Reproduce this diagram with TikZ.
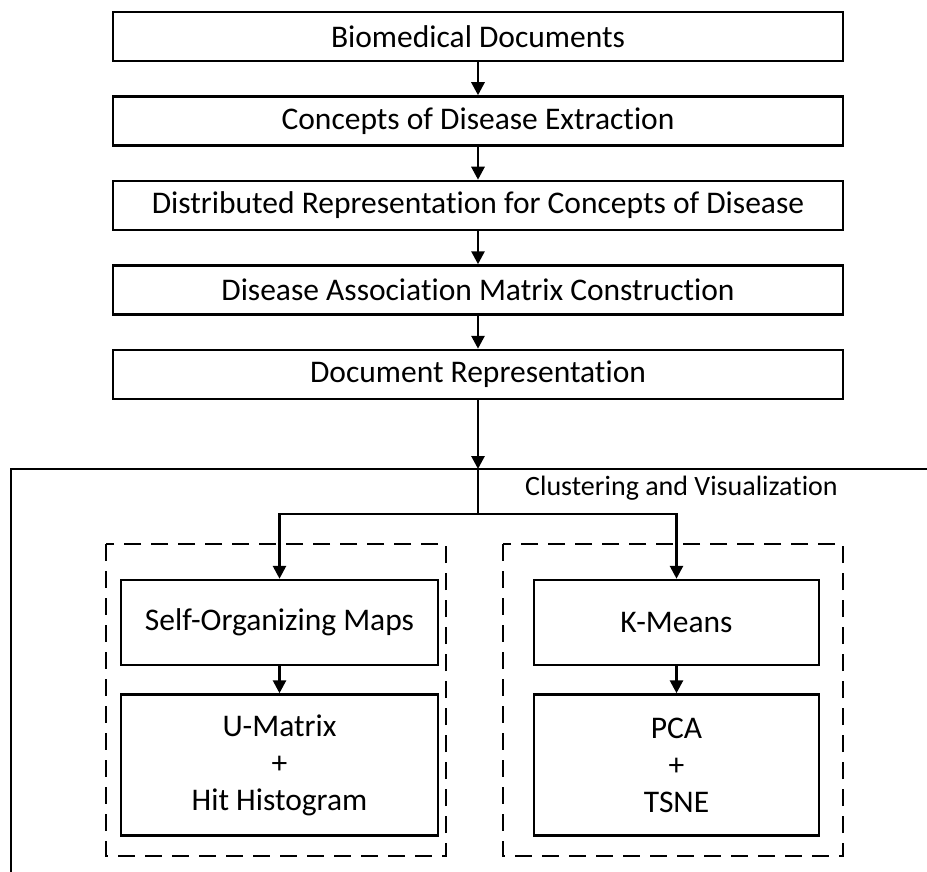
\documentclass[tikz,border=0pt]{standalone}
\usepackage{fontspec}
\setmainfont{Carlito}[Ligatures=NoCommon]
\usetikzlibrary{arrows.meta, positioning}
\tikzset{
    box/.style={draw=black, line width=2.5pt, fill=white, align=center, font=\fontsize{31.5}{37}\selectfont, minimum height=49pt, minimum width=730pt, inner sep=0pt},
    methodbox/.style={box, minimum width=300pt, minimum height=85pt},
    resultbox/.style={methodbox, minimum height=141pt},
    arr/.style={-{Triangle[length=13pt,width=13pt]}, line width=2.8pt},
    groupbox/.style={draw=black, line width=2.5pt, dash pattern=on 17pt off 10pt}
}
\begin{document}
\begin{tikzpicture}[x=1pt, y=-1pt, node distance=33pt]
        \useasboundingbox (0,0) rectangle (927,872);
        \node[box] (docs) at (478,36.5) {Biomedical Documents};
        \node[box, below=of docs] (extract) {Concepts of Disease Extraction};
        \node[box, below=of extract] (distrep) {Distributed Representation for Concepts of Disease};
        \node[box, below=of distrep] (matrix) {Disease Association Matrix Construction};
        \node[box, below=of matrix] (docrep) {Document Representation};
        \draw[arr] (docs) -- (extract);
        \draw[arr] (extract) -- (distrep);
        \draw[arr] (distrep) -- (matrix);
        \draw[arr] (matrix) -- (docrep);

        \begin{scope}
          \clip (0,0) rectangle (927,872);
          \draw[line width=2.5pt] (11,890) -- (11,469) -- (940,469);
        \end{scope}
        \node[anchor=base west, font=\fontsize{28}{32}\selectfont, inner sep=0pt] (cluslabel) at (525,495) {Clustering and Visualization};

        \node[methodbox, minimum width=317pt] (som) at (279.5,622.5) {Self-Organizing Maps};
        \node[resultbox, minimum width=317pt, below=27pt of som] (umatrix) {U-Matrix\\+\\Hit Histogram};
        \node[methodbox, minimum width=285pt] (kmeans) at (676.5,622.5) {K-Means};
        \node[resultbox, minimum width=285pt, below=27pt of kmeans] (pca) {PCA\\+\\TSNE};
        \draw[groupbox] (106,544) rectangle (446,856);
        \draw[groupbox] (503,544) rectangle (843,856);

        \coordinate (entry) at (docrep.south |- 0,469);
        \coordinate (split) at (docrep.south |- 0,514);
        \draw[arr] (docrep) -- (entry);
        \draw[line width=2.8pt] (entry) -- (split);
        \draw[arr] (split) -| (som);
        \draw[arr] (split) -| (kmeans);
        \draw[arr] (som) -- (umatrix);
        \draw[arr] (kmeans) -- (pca);
\end{tikzpicture}
\end{document}
